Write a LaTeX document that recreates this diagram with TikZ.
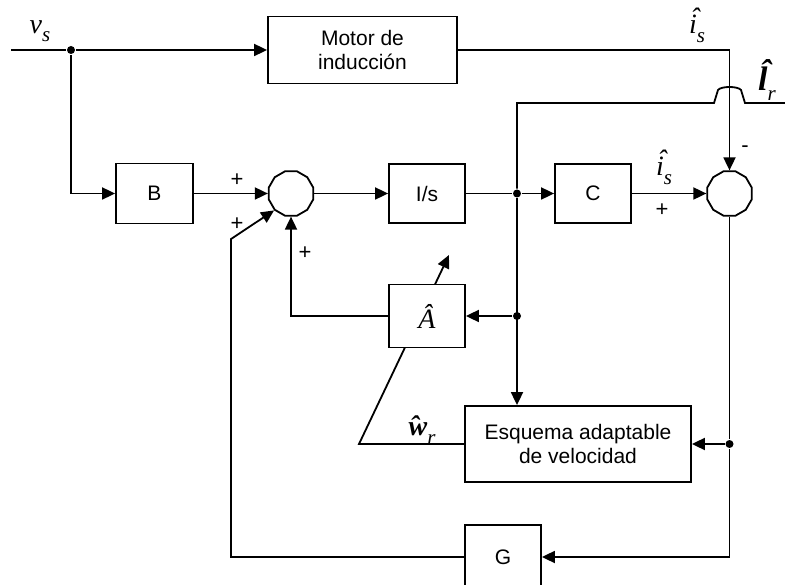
\documentclass[tikz,border=0pt]{standalone}
\usepackage{fontspec}
\setmainfont{Liberation Sans}
\newfontfamily\tms{Liberation Serif}
\newcommand{\hatto}[2]{\rlap{\kern0.05em\raisebox{#1}{\char"02C6}}#2}
\newcommand{\lowsub}[1]{\raisebox{-0.3em}{\fontsize{21}{21}\selectfont\itshape\mdseries #1}}
\usepackage{tikz}
\usetikzlibrary{
	arrows.meta,
	positioning,
	calc,
	shapes.geometric,
	backgrounds
}

\tikzset{
	blk/.style={draw,fill=white,inner sep=0pt,align=center,font=\fontsize{21}{24}\selectfont},
	sumnode/.style={draw,fill=white,regular polygon,regular polygon sides=12,minimum size=46pt,inner sep=0pt},
	jdot/.style={circle,fill,inner sep=0pt,minimum size=8pt},
	sgn/.style={font=\fontsize{22}{22}\selectfont},
	mlbl/.style={font=\tms\fontsize{28}{30}\selectfont,inner sep=1pt}
}

\begin{document}
\begin{tikzpicture}[x=1pt,y=-1pt,line width=1.8pt,>={Triangle[length=13pt,width=12pt]}]
		
		\useasboundingbox (0,0) rectangle (785,585);
		
		% blocks
		\node[blk,minimum width=189pt,minimum height=67pt] (motor) at (362.5,50) {Motor de\\inducción};
		\node[blk,minimum width=77pt,minimum height=60pt] (B) at (154.5,193.5) {B};
		\node[sumnode] (sum1) at (291,193.5) {};
		\node[blk,minimum width=76pt,minimum height=59pt] (Is) at (427,193.5) {I/s};
		\node[blk,minimum width=76pt,minimum height=59pt] (C) at (593,193.5) {C};
		\node[sumnode] (sum2) at (729.5,193.5) {};
		\node[blk,minimum width=76pt,minimum height=63pt,font=\tms\fontsize{28}{30}\selectfont] (Ahat) at (427,316) {\itshape\^A};
		\node[blk,minimum width=226pt,minimum height=76pt] (Esq) at (578,444) {Esquema adaptable\\de velocidad};
		\node[blk,minimum width=76pt,minimum height=64pt] (G) at (503,557) {G};
		
		% junctions and free ends
		\coordinate (vin) at (11,50);
		\node[jdot] (j1) at (71,50) {};
		\node[jdot] (j2) at (517,193.5) {};
		\node[jdot] (j3) at (517,316) {};
		\node[jdot] (j4) at (729.5,444) {};
		\coordinate (lamin) at (785,103);
		\coordinate (gcorner) at (231,239);
		\coordinate (wcorner) at (359,444);
		\coordinate (wtip) at (449,255);
		
		% forward path
		\draw (vin) -- (j1);
		\draw[->] (j1) -- (motor.west);
		\draw[->] (j1) |- (B.west);
		\draw[->] (B.east) -- (sum1.west);
		\draw[->] (sum1.east) -- (Is.west);
		\draw (Is.east) -- (j2);
		\draw[->] (j2) -- (C.west);
		\draw[->] (C.east) -- (sum2.west);
		\draw[->] (motor.east) -| (sum2.north);
		
		% flux line with hop
		\draw (lamin) -- (745,103) -- (741,90) .. controls (738,86) and (721,86) .. (718,90) -- (714,103) -- (j2 |- lamin) -- (j2);
		\draw[->] (j2) -- (j2 |- Esq.north);
		\draw[->] (j3) -- (Ahat.east);
		\draw[->] (Ahat.west) -| (sum1.south);
		
		% error feedback
		\draw (sum2.south) -- (j4);
		\draw[->] (j4) -- (Esq.east);
		\draw[->] (j4) |- (G.east);
		\draw[->] (G.west) -| (gcorner) -- (sum1.225);
		
		% speed estimate through A
		\begin{pgfonlayer}{background}
			\draw[->,line width=1.8pt] (Esq.west) -- (wcorner) -- (wtip);
		\end{pgfonlayer}
		
		% labels
		\node[mlbl] (vslbl) at (40,31) {\itshape v\lowsub{s}};
		\node[mlbl] (istop) at (697,25) {\itshape\hatto{0.24em}{i}\lowsub{s}};
		\node[mlbl,font=\tms\fontsize{34}{36}\selectfont] (lamlbl) at (767,80) {{\bfseries\itshape\hatto{0.2em}{l}}\lowsub{r}};
		\node[mlbl] (ismid) at (664,167) {\itshape\hatto{0.24em}{i}\lowsub{s}};
		\node[mlbl] (wlbl) at (422,430) {{\bfseries\itshape\hatto{0em}{w}}\lowsub{r}};
		\node[sgn] (p1) at (237,180) {+};
		\node[sgn] (p2) at (237,224) {+};
		\node[sgn] (p3) at (305,253) {+};
		\node[sgn] (p4) at (662,210) {+};
		\node[sgn] (m1) at (745,149) {-};
		
	\end{tikzpicture}
\end{document}
